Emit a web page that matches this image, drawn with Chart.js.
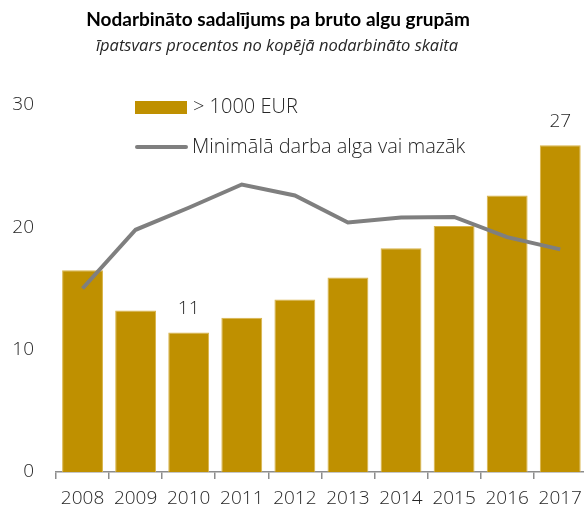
<!DOCTYPE html>
<html>
<head>
<meta charset="utf-8">
<script src="https://cdn.jsdelivr.net/npm/chart.js@4"></script>
<style>
  body { margin: 0; overflow: hidden; background: #fff; }
  #wrap { width: 590px; height: 511px; }
</style>
</head>
<body>
<div id="wrap"><canvas id="chart"></canvas></div>
<script>
// data
const years = ['2008', '2009', '2010', '2011', '2012', '2013', '2014', '2015', '2016', '2017'];
const over1000 = [16.5, 13.2, 11.4, 12.6, 14.1, 15.9, 18.3, 20.1, 22.6, 26.7];
const minWage = [15.0, 19.8, 21.6, 23.5, 22.6, 20.4, 20.8, 20.85, 19.2, 18.2];
const barNotes = [null, null, '11', null, null, null, null, null, null, '27'];
const yTicks = [0, 10, 20, 30];

const titleText = 'Nodarbināto sadalījums pa bruto algu grupām';
const subtitleText = 'īpatsvars procentos no kopējā nodarbināto skaita';

const fontName = '"Open Sans", "Noto Sans", sans-serif';

// titles, legend and the two value notes
const extras = {
    id: 'extras',
    afterDraw(chart) {
        const ctx = chart.ctx;
        ctx.save();
        ctx.textAlign = 'center';
        ctx.textBaseline = 'middle';
        ctx.fillStyle = '#000';
        ctx.font = 'bold 19px Lato, ' + fontName;
        ctx.fillText(titleText, 278, 20);
        ctx.fillStyle = '#262626';
        ctx.font = 'italic 16.5px ' + fontName;
        ctx.fillText(subtitleText, 277, 46);

        // value notes above bars
        const meta = chart.getDatasetMeta(1);
        ctx.fillStyle = '#262626';
        ctx.font = '300 19px ' + fontName;
        barNotes.forEach((t, i) => {
            if (!t) return;
            const bar = meta.data[i];
            ctx.fillText(t, bar.x, bar.y - 24);
        });

        // legend
        const ds = chart.data.datasets;
        ctx.textAlign = 'left';
        ctx.fillStyle = ds[1].backgroundColor;
        ctx.fillRect(135, 101, 52, 13);
        ctx.strokeStyle = ds[0].borderColor;
        ctx.lineWidth = 4;
        ctx.lineCap = 'round';
        ctx.beginPath();
        ctx.moveTo(137, 147);
        ctx.lineTo(186, 147);
        ctx.stroke();
        ctx.fillStyle = '#262626';
        ctx.font = '300 20px ' + fontName;
        ctx.fillText(ds[1].label, 193, 107);
        ctx.fillText(ds[0].label, 192, 147);
        ctx.restore();
    }
};

const config = {
    type: 'bar',
    data: {
        labels: years,
        datasets: [{
            type: 'line',
            label: 'Minimālā darba alga vai mazāk',
            data: minWage,
            borderColor: '#7f7f7f',
            borderWidth: 4,
            pointRadius: 0,
            tension: 0,
            order: 0
        }, {
            label: '> 1000 EUR',
            data: over1000,
            backgroundColor: '#bf9000',
            borderColor: '#d9b44a',
            borderWidth: 1,
            categoryPercentage: 1,
            barPercentage: 0.77,
            order: 1
        }]
    },
    options: {
        responsive: true,
        maintainAspectRatio: false,
        animation: false,
        layout: {
            padding: { top: 105, right: 1, left: 0, bottom: 0 }
        },
        scales: {
            x: {
                grid: {
                    display: true,
                    drawOnChartArea: false,
                    drawTicks: true,
                    tickLength: 7,
                    color: '#8c8c8c',
                    lineWidth: 1.5
                },
                border: { display: true, color: '#8c8c8c', width: 1.5 },
                afterFit(scale) { scale.height = 39; },
                ticks: {
                    color: '#262626',
                    font: { family: fontName, size: 19, weight: '300' },
                    padding: 8,
                    maxRotation: 0,
                    autoSkip: false
                }
            },
            y: {
                min: 0,
                max: 30,
                grid: { display: false, drawTicks: false },
                border: { display: false },
                afterFit(scale) { scale.width = 56; },
                afterBuildTicks(scale) { scale.ticks = yTicks.map(v => ({ value: v })); },
                ticks: {
                    color: '#262626',
                    font: { family: fontName, size: 19, weight: '300' },
                    padding: 22
                }
            }
        },
        plugins: {
            legend: { display: false },
            tooltip: { enabled: false }
        }
    },
    plugins: [extras]
};

const chart = new Chart(document.getElementById('chart'), config);
</script>
</body>
</html>
